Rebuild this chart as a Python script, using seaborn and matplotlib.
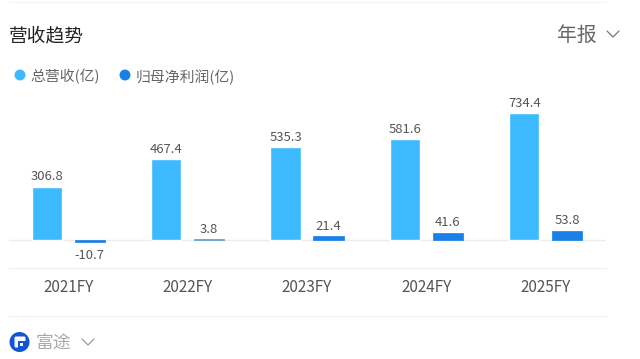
import matplotlib
matplotlib.use("Agg")
import matplotlib.pyplot as plt
import pandas as pd
import seaborn as sns
from matplotlib.patches import Circle, FancyBboxPatch, Rectangle

years = ["2021FY", "2022FY", "2023FY", "2024FY", "2025FY"]
revenue = [306.8, 467.4, 535.3, 581.6, 734.4]
profit = [-10.7, 3.8, 21.4, 41.6, 53.8]
series_names = ["总营收(亿)", "归母净利润(亿)"]
colors = ["#3CB9FF", "#1A7FE6"]

sns.set_style("white")
plt.rcParams["font.family"] = ["Noto Sans CJK SC", "DejaVu Sans"]

df = pd.DataFrame({
    "year": years * 2,
    "value": revenue + profit,
    "series": [series_names[0]] * 5 + [series_names[1]] * 5,
})

W, H = 640, 359
fig = plt.figure(figsize=(W / 100, H / 100), dpi=100, facecolor="white")

# axes placed in pixels: x 8.5..605.5, y 100..268
ax = fig.add_axes([8.5 / W, 1 - 268 / H, 597 / W, 168 / H])
sns.barplot(data=df, x="year", y="value", hue="series", palette=colors,
            width=0.72, gap=0.30, saturation=1, legend=False, ax=ax)

px_per_unit = 127 / 734.4
ax.set_ylim(-(268 - 240) / px_per_unit, (240 - 100) / px_per_unit)
ax.set_xlim(-0.5, 4.5)
ax.axhline(0, color="#EDEDED", lw=1, zorder=0)

# the small profit bars would vanish under a pixel, give them a thin edge
for bar in ax.containers[1]:
    bar.set_edgecolor(colors[1])
    bar.set_linewidth(0.5)
ax.containers[1][1].set_facecolor("#5E9CC4")
ax.containers[1][1].set_edgecolor("#5E9CC4")

ax.bar_label(ax.containers[0], fmt="%.1f", padding=2.5, fontsize=9.4, color="#555555")
labels = ax.bar_label(ax.containers[1], fmt="%.1f", padding=2.5, fontsize=9.4, color="#555555")
labels[0].xyann = (0, -5.5)  # the negative label sits lower

ax.set_xlabel("")
ax.set_ylabel("")
ax.set_yticks([])
ax.tick_params(axis="x", length=0, pad=8, labelsize=11, labelcolor="#555555")
for s in ["top", "left", "right"]:
    ax.spines[s].set_visible(False)
ax.spines["bottom"].set_color("#F0F0F0")
ax.spines["bottom"].set_linewidth(1)

# page furniture around the chart, in pixel coordinates
ov = fig.add_axes([0, 0, 1, 1], facecolor="none")
ov.set_xlim(0, W)
ov.set_ylim(H, 0)
ov.axis("off")

ov.plot([9, 606], [2, 2], color="#F5F5F5", lw=1)
ov.plot([9, 606], [316, 316], color="#F3F3F3", lw=1)

ov.text(9, 35.5, "营收趋势", fontsize=13.5, color="#222222", va="center", ha="left")
ov.text(557.5, 35.5, "年报", fontsize=14.3, color="#666666", va="center", ha="left")
ov.plot([607, 613, 619], [31, 37, 31], color="#777777", lw=0.9)

ov.scatter([20, 125], [75, 75], s=62, c=colors, linewidths=0)
ov.text(30.5, 77, series_names[0], fontsize=10.7, color="#666666", va="center", ha="left")
ov.text(135.5, 77, series_names[1], fontsize=10.7, color="#666666", va="center", ha="left")

# Futu logo
ov.add_patch(Circle((19.5, 342), 10, color="#1256D6", lw=0))
ov.add_patch(FancyBboxPatch((16, 338), 8, 8, boxstyle="round,pad=1.5", color="white", lw=0))
ov.add_patch(Rectangle((18, 341), 8.5, 7.5, color="#1256D6", lw=0))
ov.add_patch(Rectangle((20, 343), 2.5, 2.5, color="white", lw=0))
ov.text(35.5, 343.5, "富途", fontsize=12.8, color="#AAAAAA", va="center", ha="left")
ov.plot([82, 88, 94], [339, 345, 339], color="#999999", lw=0.9)

fig.savefig("out.png", dpi=100, facecolor="white")
